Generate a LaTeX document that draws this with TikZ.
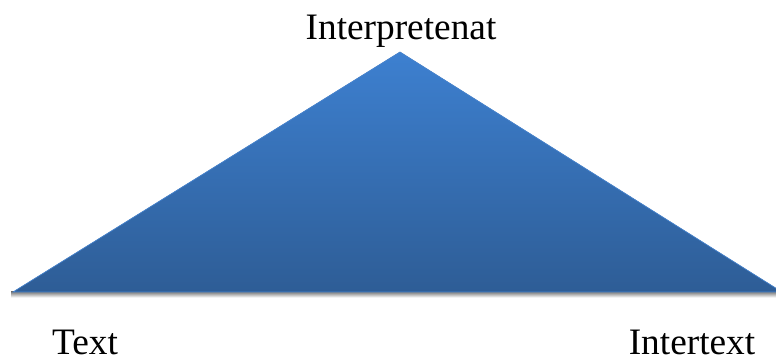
\documentclass[tikz,border=0pt]{standalone}
\usepackage{fontspec}
\setmainfont{Liberation Serif}
\usepackage{xcolor}
\usetikzlibrary{positioning}
\definecolor{skytop}{HTML}{3D80D0}
\definecolor{skybot}{HTML}{2E5D96}
\definecolor{edgeblue}{HTML}{4A88D4}
\definecolor{shade}{HTML}{D0D0D0}

\begin{document}
\begin{tikzpicture}[x=0.75pt,y=-0.75pt]
\tikzset{lbl/.style={font=\fontsize{28}{32}\selectfont, anchor=base, inner sep=0pt}}
\useasboundingbox (0,0) rectangle (776,363);
% corners of the triangle
\coordinate (apex) at (400,52);
\coordinate (left) at (13,292);
\coordinate (right) at (782,292);
% shadow under the base
\fill[shade] (11,292) rectangle (776,297.5);
\fill[top color=skytop, bottom color=skybot, draw=edgeblue, line width=0.5pt]
  (left) -- (apex) -- (right) -- cycle;
\node[lbl] (interp) at (401,40) {Interpretenat};
\node[lbl] (txt) at (85,355) {Text};
\node[lbl] (inter) at (692,355) {Intertext};
\end{tikzpicture}
\end{document}
